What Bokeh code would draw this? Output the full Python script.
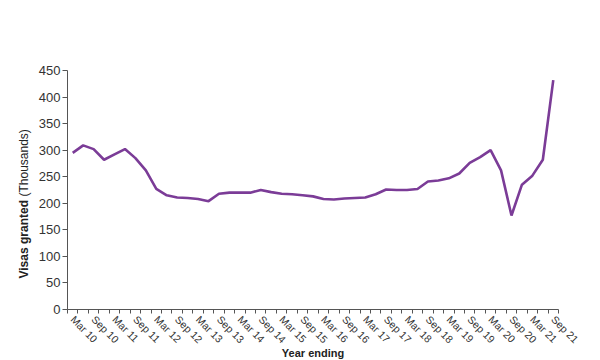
import math
from bokeh.plotting import figure
from bokeh.models import FixedTicker, Range1d, Label, LinearAxis
from bokeh.embed import file_html
from bokeh.resources import INLINE

quarters = []
for yr in range(10, 22):
    for m in ["Mar", "Jun", "Sep", "Dec"]:
        quarters.append(f"{m} {yr}")
quarters = quarters[:47]  # Mar 10 .. Sep 21

visas = [295, 309, 302, 282, 292, 302, 285, 262, 227, 215,
         211, 210, 208, 204, 218, 220, 220, 220, 225, 221,
         218, 217, 215, 213, 208, 207, 209, 210, 211, 217,
         226, 225, 225, 227, 241, 243, 247, 256, 276, 287,
         300, 262, 177, 235, 252, 282, 432]

y_ticks = list(range(0, 451, 50))
y_title_bold = "Visas granted"
y_title_rest = "(Thousands)"
x_title = "Year ending"

xs = list(range(len(quarters)))
n = len(quarters)
y_max = 450

# canvas geometry (pixels) of the axes box
W, H = 592, 360
left_px, right_px, top_px, bottom_px = 67, 558, 70, 309
xunit = (right_px - left_px) / n
yunit = (bottom_px - top_px) / y_max

p = figure(width=W, height=H, output_backend="svg", toolbar_location=None,
           x_range=Range1d(-0.5 - left_px / xunit, n - 0.5 + (W - right_px) / xunit),
           y_range=Range1d(-(H - bottom_px) / yunit, bottom_px / yunit),
           x_axis_type=None, y_axis_type=None, min_border=0)
p.outline_line_color = None
p.xgrid.visible = False
p.ygrid.visible = False

p.line(xs, visas, line_color="#7b3c97", line_width=2.6)

label_idx = [i for i, q in enumerate(quarters) if q.startswith("Mar") or q.startswith("Sep")]
xaxis = LinearAxis(fixed_location=0, bounds=(-0.5, n - 0.5),
                   ticker=FixedTicker(ticks=label_idx, minor_ticks=[i - 0.5 for i in range(n + 1)]))
xaxis.major_label_overrides = {i: quarters[i] for i in label_idx}
xaxis.major_label_orientation = -math.pi / 4
xaxis.major_tick_in = 0
xaxis.major_tick_out = 0
xaxis.minor_tick_in = 0
xaxis.minor_tick_out = 4
xaxis.major_label_standoff = 4
xaxis.major_label_text_font = "Liberation Sans"
xaxis.major_label_text_font_size = "10.5px"
xaxis.major_label_text_color = "#333333"
xaxis.axis_line_color = "#555555"
xaxis.minor_tick_line_color = "#555555"
p.add_layout(xaxis, "below")

yaxis = LinearAxis(fixed_location=-0.5, bounds=(0, y_max), ticker=FixedTicker(ticks=y_ticks))
yaxis.minor_tick_line_color = None
yaxis.major_tick_in = 0
yaxis.major_tick_out = 5
yaxis.major_label_standoff = 2
yaxis.major_label_text_font = "Liberation Sans"
yaxis.major_label_text_font_size = "13px"
yaxis.major_label_text_color = "#333333"
yaxis.axis_line_color = "#555555"
yaxis.major_tick_line_color = "#555555"
p.add_layout(yaxis, "left")

# y-axis title: bold part + regular part, reading bottom to top
p.add_layout(Label(x=23, y=82, x_units="screen", y_units="screen", text=y_title_bold,
                   angle=math.pi / 2, text_align="left", text_baseline="middle",
                   text_font="Liberation Sans", text_font_style="bold", text_font_size="12px",
                   text_color="#222222"))
p.add_layout(Label(x=23, y=164, x_units="screen", y_units="screen", text=y_title_rest,
                   angle=math.pi / 2, text_align="left", text_baseline="middle",
                   text_font="Liberation Sans", text_font_size="12px",
                   text_color="#222222"))

# x-axis title at the bottom edge
p.add_layout(Label(x=(left_px + right_px) / 2, y=2, x_units="screen", y_units="screen",
                   text=x_title, text_align="center", text_baseline="bottom",
                   text_font="Liberation Sans", text_font_style="bold", text_font_size="11px",
                   text_color="#222222"))

open("out.html", "w").write(file_html(p, INLINE))
